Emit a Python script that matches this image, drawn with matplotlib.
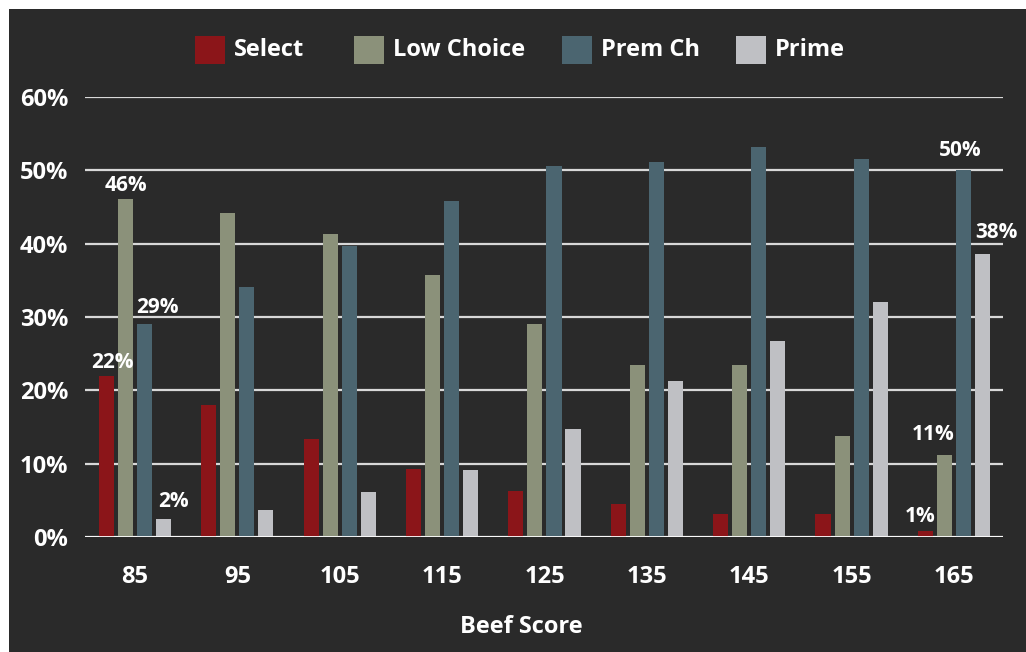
import numpy as np
import matplotlib
matplotlib.use('Agg')
import matplotlib.pyplot as plt
from matplotlib.patches import Rectangle

# Share of carcasses in each quality grade by beef score
scores = ['85', '95', '105', '115', '125', '135', '145', '155', '165']
select = [22.0, 18.0, 13.4, 9.3, 6.3, 4.5, 3.1, 3.1, 0.8]
low_choice = [46.1, 44.2, 41.3, 35.7, 29.1, 23.5, 23.5, 13.8, 11.2]
prem_ch = [29.1, 34.1, 39.7, 45.8, 50.6, 51.2, 53.2, 51.6, 50.1]
prime = [2.4, 3.7, 6.1, 9.1, 14.7, 21.3, 26.7, 32.1, 38.6]

grades = ['Select', 'Low Choice', 'Prem Ch', 'Prime']
colors = ['#8b1519', '#8b917a', '#4b6570', '#bfc0c4']

plt.rcParams['font.family'] = ['Open Sans', 'DejaVu Sans']
plt.rcParams['font.weight'] = 'bold'

W, H = 1026, 652
fig = plt.figure(figsize=(W / 100, H / 100), dpi=100, facecolor='white')

# dark chalkboard panel
fig.patches.append(Rectangle((9 / W, 0), 1 - 9 / W, 1 - 9 / H, transform=fig.transFigure,
                             facecolor='#2a2a2a', edgecolor='none', zorder=-10))

ax = fig.add_axes([85 / W, (H - 537) / H, (1003 - 85) / W, (537 - 97) / H])
ax.set_facecolor('none')

x = np.arange(len(scores))
width = 0.147
pitch = 0.186
series = [select, low_choice, prem_ch, prime]
for i, (vals, c, name) in enumerate(zip(series, colors, grades)):
    ax.bar(x + (i - 1.5) * pitch, vals, width=width, color=c, label=name, zorder=3)

ax.set_xlim(-0.488, 8.479)
ax.set_ylim(0, 60)
ax.set_yticks(range(0, 61, 10))
ax.set_yticklabels([f'{v}%' for v in range(0, 61, 10)])
ax.set_xticks(x)
ax.set_xticklabels(scores)
ax.tick_params(length=0, colors='white', labelsize=17)
ax.tick_params(axis='y', pad=12)
ax.tick_params(axis='x', pad=20)
for t in ax.get_xticklabels() + ax.get_yticklabels():
    t.set_fontweight('bold')
ax.grid(axis='y', color='#d8d8d8', linewidth=1.6, zorder=1)
ax.set_axisbelow(True)
for s in ax.spines.values():
    s.set_visible(False)
ax.axhline(0, color='white', linewidth=2, zorder=4)

# axis title sits centred under the bar area, not the full axes
fig.text(521 / W, (H - 627) / H, 'Beef Score', color='white', fontsize=17, fontweight='bold',
         ha='center', va='center')

# value labels on first and last groups: (group, series, text, dx points, dy points)
labels = [(0, 0, '22%', 4, 2), (0, 1, '46%', 0, 2), (0, 2, '29%', 9, 4), (0, 3, '2%', 7, 5),
          (8, 0, '1%', -4, 3), (8, 1, '11%', -8, 7), (8, 2, '50%', -2, 6), (8, 3, '38%', 10, 8)]
for g, si, txt, dx, dy in labels:
    ax.annotate(txt, (x[g] + (si - 1.5) * pitch, series[si][g]), xytext=(dx, dy),
                textcoords='offset points', ha='center', va='bottom', color='white',
                fontsize=15, fontweight='bold', zorder=5, annotation_clip=False)

# legend across the top
leg_sq = [195, 354, 562, 736]
for px, c, name in zip(leg_sq, colors, grades):
    fig.patches.append(Rectangle((px / W, (H - 64) / H), 30 / W, 28 / H, transform=fig.transFigure,
                                 facecolor=c, edgecolor='none', zorder=2))
    fig.text((px + 39) / W, (H - 50) / H, name, color='white', fontsize=17, fontweight='bold',
             va='center', ha='left')

fig.savefig('out.png', dpi=100, facecolor=fig.get_facecolor())
